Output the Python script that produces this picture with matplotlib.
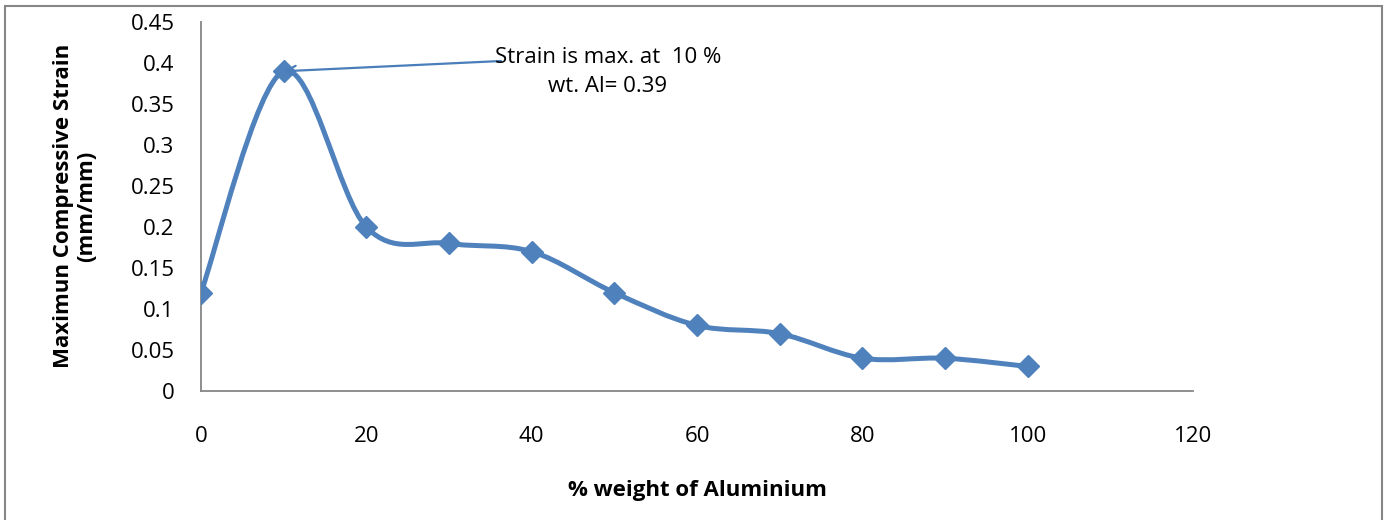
import matplotlib
matplotlib.use("Agg")
import matplotlib.pyplot as plt
from matplotlib.path import Path
from matplotlib.patches import PathPatch, Rectangle

plt.rcParams['font.family'] = ['Open Sans', 'DejaVu Sans']

# Aluminium content (% wt) and maximum compressive strain (mm/mm)
al_wt = [0, 10, 20, 30, 40, 50, 60, 70, 80, 90, 100]
max_strain = [0.12, 0.39, 0.20, 0.18, 0.17, 0.12, 0.08, 0.07, 0.04, 0.04, 0.03]

y_ticks = [0, 0.05, 0.1, 0.15, 0.2, 0.25, 0.3, 0.35, 0.4, 0.45]
y_tick_labels = ['0', '0.05', '0.1', '0.15', '0.2', '0.25', '0.3', '0.35', '0.4', '0.45']
x_ticks = [0, 20, 40, 60, 80, 100, 120]

line_color = '#4F81BD'
axis_color = '#868686'

fig = plt.figure(figsize=(13.87, 5.2), dpi=100)
ax = fig.add_axes([0.1449, 0.248, 0.7153, 0.7096])

# Smoothed series line built as cubic Bezier segments through the points
pts = list(zip(al_wt, max_strain))
verts = [pts[0]]
codes = [Path.MOVETO]
n = len(pts)
for i in range(n - 1):
    p0 = pts[i - 1] if i > 0 else pts[i]
    p1 = pts[i]
    p2 = pts[i + 1]
    p3 = pts[i + 2] if i + 2 < n else pts[i + 1]
    c1 = (p1[0] + (p2[0] - p0[0]) / 6, p1[1] + (p2[1] - p0[1]) / 6)
    c2 = (p2[0] - (p3[0] - p1[0]) / 6, p2[1] - (p3[1] - p1[1]) / 6)
    verts += [c1, c2, p2]
    codes += [Path.CURVE4] * 3
ax.add_patch(PathPatch(Path(verts, codes), fill=False, edgecolor=line_color,
                       lw=3.6, capstyle='round', joinstyle='round', zorder=2))
ax.plot(al_wt, max_strain, linestyle='none', marker='D', markersize=11.5,
        color=line_color, zorder=3)

ax.set_xlim(0, 120)
ax.set_ylim(0, 0.45)
ax.set_xticks(x_ticks)
ax.set_yticks(y_ticks)
ax.set_yticklabels(y_tick_labels)
ax.tick_params(axis='both', length=0, labelsize=16, colors='black')
ax.tick_params(axis='x', pad=25)
ax.tick_params(axis='y', pad=19)

for side in ['top', 'right']:
    ax.spines[side].set_visible(False)
for side in ['left', 'bottom']:
    ax.spines[side].set_color(axis_color)
    ax.spines[side].set_linewidth(1.3)

ax.set_xlabel('% weight of Aluminium', fontsize=16, fontweight='bold', labelpad=24)
fig.text(0.054, 0.604, 'Maximun Compressive Strain\n(mm/mm)', rotation=90,
         ha='center', va='center', fontsize=16, fontweight='bold',
         linespacing=1.15)

# Callout for the peak value
ax.annotate('', xy=(10, 0.39), xytext=(36.3, 0.4025),
            arrowprops=dict(arrowstyle='->,head_length=0.7,head_width=0.35',
                            color='#4A7EBB', lw=1.6, shrinkA=0, shrinkB=0),
            zorder=4)
ax.text(49.2, 0.389, 'Strain is max. at  10 %\nwt. Al= 0.39', ha='center',
        va='center', fontsize=16, linespacing=1.5, zorder=5)

# Chart area border
fig.add_artist(Rectangle((0.0035, -0.02), 0.993, 1.008, transform=fig.transFigure,
                         fill=False, edgecolor=axis_color, lw=1.5))

fig.savefig('out.png', dpi=100, facecolor='white')
